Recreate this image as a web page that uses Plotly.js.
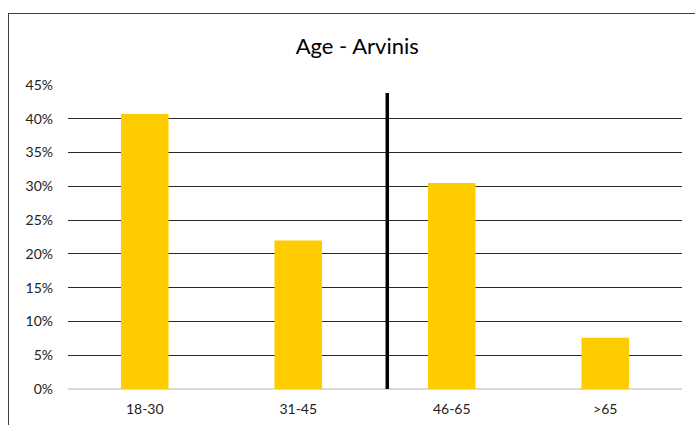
<!DOCTYPE html>
<html>
<head>
<meta charset="utf-8">
<script src="https://cdn.plot.ly/plotly-3.0.1.min.js"></script>
<style>
  html, body { margin: 0; padding: 0; background: #fff; }
  #wrap { position: relative; width: 695px; height: 425px; overflow: hidden; }
  #chart { width: 695px; height: 425px; }
  #frame { position: absolute; left: 8px; top: 13px; width: 720px; height: 450px;
           border: 1.5px solid #404040; pointer-events: none; box-sizing: border-box; }
</style>
</head>
<body>
<div id="wrap">
  <div id="chart"></div>
  <div id="frame"></div>
</div>
<script>
const categories = ["18-30", "31-45", "46-65", ">65"];
const shares = [0.407, 0.220, 0.305, 0.076];
const yTickValues = [0, 0.05, 0.10, 0.15, 0.20, 0.25, 0.30, 0.35, 0.40, 0.45];
const yTickLabels = ["0%", "5%", "10%", "15%", "20%", "25%", "30%", "35%", "40%", "45%"];
const dividerX = 1.58;
const dividerTop = 0.438;

const font = "Lato, 'Open Sans', sans-serif";

Plotly.newPlot("chart", [{
  type: "bar",
  x: categories,
  y: shares,
  marker: { color: "#FFCC00" },
  width: 0.31,
  hoverinfo: "x+y"
}], {
  width: 695, height: 425,
  margin: { l: 68, r: 13, t: 85, b: 36 },
  paper_bgcolor: "#fff",
  plot_bgcolor: "#fff",
  showlegend: false,
  title: { text: "Age - Arvinis", x: 0.514, xanchor: "center", y: 0.89, yanchor: "middle",
           font: { family: font, size: 22, color: "#000" } },
  xaxis: {
    type: "category",
    tickfont: { family: font, size: 14, color: "#222" },
    showgrid: false, zeroline: false, showline: false, ticks: "",
    range: [-0.5, 3.5], ticklabelstandoff: 10
  },
  yaxis: {
    range: [0, 0.45],
    tickvals: yTickValues,
    ticktext: yTickLabels,
    tickfont: { family: font, size: 14, color: "#222" },
    showgrid: true, gridcolor: "#2a2a2a", gridwidth: 1,
    zeroline: true, zerolinecolor: "#d9d9d9", zerolinewidth: 1.5,
    showline: false, ticks: "", ticklabelstandoff: 14
  },
  shapes: [{
    type: "line", xref: "x", yref: "y",
    x0: dividerX, x1: dividerX, y0: 0, y1: dividerTop,
    line: { color: "#000", width: 3.5 }
  }]
}, { displayModeBar: false, staticPlot: true });
</script>
</body>
</html>
